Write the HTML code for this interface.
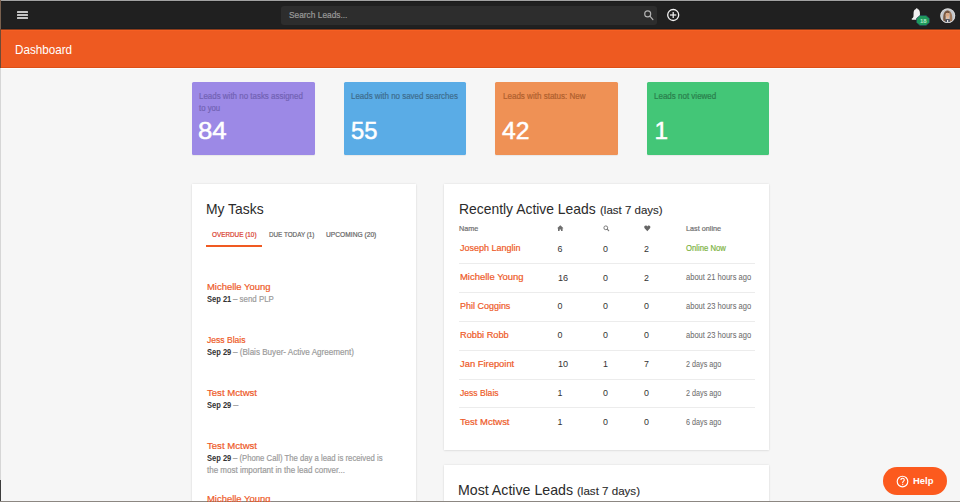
<!DOCTYPE html>
<html><head><meta charset="utf-8">
<style>
*{box-sizing:border-box;margin:0;padding:0}
html,body{width:960px;height:502px;overflow:hidden;background:#f6f6f6;font-family:"Liberation Sans",sans-serif}
body{position:relative}
.a{position:absolute}
.tx{position:absolute;white-space:pre;transform-origin:0 0;-webkit-text-stroke:0.2px currentColor}
.ham{left:17px;width:11px;height:2px;background:#c4c4c4;border-radius:0.5px}
.stat{top:82px;width:122.5px;height:73px;border-radius:1.5px;box-shadow:0 1px 1px rgba(0,0,0,.06)}
.card{background:#fff;box-shadow:0 0 2px rgba(0,0,0,.10),0 1px 2px rgba(0,0,0,.06)}
.sep{left:459px;width:296px;height:1px;background:#ececec}
.ic{position:absolute}
</style></head><body>
<div class="a" style="left:0;top:0;width:960px;height:1px;background:#a2a2a2"></div>
<div class="a" style="left:0;top:1px;width:960px;height:28px;background:#202020"></div>
<div class="a" style="left:0;top:1px;width:960px;height:1px;background:#1a1a1a"></div>
<div class="a" style="left:0;top:28px;width:960px;height:1px;background:#1a1d20"></div>
<div class="a ham" style="top:11px"></div>
<div class="a ham" style="top:14px"></div>
<div class="a ham" style="top:17px"></div>
<div class="a" style="left:281px;top:6px;width:376px;height:18.5px;background:#2d2d2d;border-radius:3px"></div>
<!-- search icon -->
<svg class="ic" style="left:643px;top:10px" width="12" height="12" viewBox="0 0 12 12"><circle cx="4.7" cy="3.9" r="3" fill="none" stroke="#b4b4b4" stroke-width="1.15"/><line x1="6.9" y1="6.1" x2="9.9" y2="9.6" stroke="#b4b4b4" stroke-width="1.2" stroke-linecap="round"/></svg>
<!-- plus circle -->
<svg class="ic" style="left:666.1px;top:7.8px" width="14" height="14" viewBox="0 0 14 14"><circle cx="7.2" cy="7" r="5.5" fill="none" stroke="#f2f2f2" stroke-width="1.3"/><line x1="7.2" y1="3.9" x2="7.2" y2="10.1" stroke="#f2f2f2" stroke-width="1.25"/><line x1="4" y1="7" x2="10.3" y2="7" stroke="#f2f2f2" stroke-width="1.25"/></svg>
<!-- bell -->
<svg class="ic" style="left:911px;top:8px" width="12" height="13" viewBox="0 0 12 13"><path d="M5.75 1 C3.6 1 2.7 2.6 2.6 4.6 L2.5 8.2 C2.4 9.4 1.6 10 0.8 10.5 L0.8 11.7 L10.7 11.7 L10.7 10.5 C9.9 10 9.1 9.4 9 8.2 L8.9 4.6 C8.8 2.6 7.9 1 5.75 1Z" fill="#f2f2f2"/><circle cx="5.75" cy="1.1" r="0.9" fill="#f2f2f2"/></svg>
<svg class="ic" style="left:916.3px;top:15.4px" width="14" height="11" viewBox="0 0 14 11"><path d="M4 0.4 L10 0.4 L13.5 3.4 L13.5 7.6 L10 10.6 L4 10.6 L0.5 7.6 L0.5 3.4Z" fill="#1f9a5c" stroke="#243f5a" stroke-width="0.7" stroke-linejoin="round"/></svg>
<div class="tx" style="left:920px;top:18.2px;font-size:6px;line-height:6px;font-weight:700;color:#aee6c4;-webkit-text-stroke:0">18</div>
<!-- avatar -->
<svg class="ic" style="left:940px;top:7.5px" width="15.5" height="15.5" viewBox="0 0 16 16"><defs><clipPath id="cp"><circle cx="8" cy="8" r="7"/></clipPath></defs><circle cx="8" cy="8" r="7.6" fill="#d4d4d4"/><g clip-path="url(#cp)"><rect x="0" y="0" width="16" height="16" fill="#c3c7cc"/><path d="M3.5 14 C3 9 3.4 3 7.2 2.6 C5.6 5 5.6 9 6 14Z" fill="#7a5a43"/><path d="M12.6 14 C13 9 12.4 3 8.4 2.6 C10.2 5 10.2 9 9.8 14Z" fill="#a07b5e"/><path d="M7.2 2.6 C8 2.4 8.4 2.6 8.4 2.6 C9.4 3.4 9.8 4.5 9.8 5.2 L5.8 5.2 C5.8 4.5 6.2 3.4 7.2 2.6Z" fill="#6d4f3b"/><ellipse cx="7.8" cy="7.2" rx="2" ry="2.4" fill="#dba985"/><path d="M6.4 8.6 L9.4 8.6 L9 11 L6.8 11Z" fill="#e6b896"/><rect x="5.6" y="11.6" width="4.4" height="5" fill="#2e3646"/><rect x="7.1" y="12.4" width="1.5" height="3.6" fill="#e8e8e8"/></g><circle cx="8" cy="8" r="7.25" fill="none" stroke="#dedede" stroke-width="0.7"/></svg>

<div class="a" style="left:0;top:29px;width:960px;height:38.5px;background:#ee5a21"></div>
<div class="a" style="left:0;top:29px;width:960px;height:1px;background:#8a3c1c"></div>
<div class="a" style="left:0;top:30px;width:960px;height:1px;background:#f65f22"></div>
<div class="a" style="left:0;top:67px;width:960px;height:1px;background:#dc5018"></div>
<div class="a" style="left:0;top:68px;width:960px;height:1px;background:#fcfeff"></div>

<div class="a stat" style="left:192px;background:#9c89e6"></div>
<div class="a stat" style="left:343.5px;background:#5aace6"></div>
<div class="a stat" style="left:495px;background:#ef9155"></div>
<div class="a stat" style="left:646.5px;background:#43c677"></div>

<div class="a card" style="left:192px;top:183.5px;width:224px;height:330px"></div>
<div class="a card" style="left:444.2px;top:183.5px;width:325px;height:266.5px"></div>
<div class="a card" style="left:444.2px;top:464.5px;width:325px;height:60px"></div>

<div class="a" style="left:206.2px;top:244.6px;width:56px;height:2px;background:#f05a22"></div>

<div class="a sep" style="top:263px"></div>
<div class="a sep" style="top:291.9px"></div>
<div class="a sep" style="top:320.8px"></div>
<div class="a sep" style="top:349.6px"></div>
<div class="a sep" style="top:378.5px"></div>
<div class="a sep" style="top:407.4px"></div>

<!-- table header icons -->
<svg class="ic" style="left:557px;top:224.5px" width="7" height="7" viewBox="0 0 7 7"><path d="M3.3 0.3 L6.5 3.2 L5.6 3.2 L5.6 6 L4 6 L4 4.4 L2.6 4.4 L2.6 6 L1 6 L1 3.2 L0.1 3.2Z" fill="#6e6e6e"/></svg>
<svg class="ic" style="left:602.5px;top:224.8px" width="7" height="7" viewBox="0 0 7 7"><circle cx="2.8" cy="2.8" r="1.9" fill="none" stroke="#7a7a7a" stroke-width="1"/><line x1="4.2" y1="4.2" x2="6" y2="6" stroke="#7a7a7a" stroke-width="1.1"/></svg>
<svg class="ic" style="left:644.2px;top:224.6px" width="7" height="7" viewBox="0 0 7 7"><path d="M3.3 6.3 L0.8 3.6 C-0.3 2.4 0.2 0.4 1.8 0.4 C2.6 0.4 3.1 0.9 3.3 1.4 C3.5 0.9 4 0.4 4.8 0.4 C6.4 0.4 6.9 2.4 5.8 3.6Z" fill="#666"/></svg>

<!-- help button -->
<div class="a" style="left:883px;top:467.2px;width:64.3px;height:28px;border-radius:14px;background:#fc5a1e"></div>
<svg class="ic" style="left:895.5px;top:474.5px" width="13" height="13" viewBox="0 0 13 13"><circle cx="6.5" cy="6.5" r="5.3" fill="none" stroke="#fff" stroke-width="1.15"/><path d="M4.9 5.1 C4.9 3.9 5.6 3.3 6.6 3.3 C7.6 3.3 8.3 3.9 8.3 4.9 C8.3 6 6.7 6.2 6.7 7.6 L6.7 8.2" fill="none" stroke="#fff" stroke-width="1.1"/><circle cx="6.7" cy="9.6" r="0.65" fill="#fff"/></svg>

<!-- left/bottom desktop edges -->
<div class="a" style="left:0;top:0;width:1px;height:29px;background:#7a604e"></div>
<div class="a" style="left:0;top:29px;width:1px;height:39px;background:#6e4a35"></div>
<div class="a" style="left:0;top:68px;width:1px;height:412px;background:#d6d6d6"></div>
<div class="a" style="left:0;top:480px;width:1px;height:22px;background:#3c3c3c"></div>
<div class="a" style="left:0;top:501px;width:960px;height:1px;background:#8c8782"></div>

<div class="tx" style="left:288.80px;top:11.25px;font-size:8.8px;line-height:8.8px;color:#9a9a9a;font-weight:400;transform:scaleX(0.9481);">Search Leads...</div>
<div class="tx" style="left:14.50px;top:42.69px;font-size:13px;line-height:13px;color:#ffffff;font-weight:400;transform:scaleX(0.8979);-webkit-text-stroke:0;">Dashboard</div>
<div class="tx" style="left:198.80px;top:91.69px;font-size:8.4px;line-height:8.4px;color:#7262b4;font-weight:400;transform:scaleX(0.9494);">Leads with no tasks assigned</div>
<div class="tx" style="left:198.80px;top:104.39px;font-size:8.4px;line-height:8.4px;color:#7262b4;font-weight:400;transform:scaleX(0.9285);">to you</div>
<div class="tx" style="left:351.00px;top:91.69px;font-size:8.4px;line-height:8.4px;color:#3e6d8e;font-weight:400;transform:scaleX(0.9486);">Leads with no saved searches</div>
<div class="tx" style="left:502.50px;top:91.69px;font-size:8.4px;line-height:8.4px;color:#b0602e;font-weight:400;transform:scaleX(0.9590);">Leads with status: New</div>
<div class="tx" style="left:654.00px;top:91.69px;font-size:8.4px;line-height:8.4px;color:#2a7e4c;font-weight:400;transform:scaleX(0.9553);">Leads not viewed</div>
<div class="tx" style="left:198.44px;top:118.83px;font-size:24.3px;line-height:24.3px;color:#ffffff;font-weight:400;transform:scaleX(1.0622);-webkit-text-stroke:0.5px #fff;">84</div>
<div class="tx" style="left:350.60px;top:118.83px;font-size:24.3px;line-height:24.3px;color:#ffffff;font-weight:400;transform:scaleX(0.9769);-webkit-text-stroke:0.5px #fff;">55</div>
<div class="tx" style="left:502.00px;top:118.83px;font-size:24.3px;line-height:24.3px;color:#ffffff;font-weight:400;transform:scaleX(1.0184);-webkit-text-stroke:0.5px #fff;">42</div>
<div class="tx" style="left:654.60px;top:118.83px;font-size:24.3px;line-height:24.3px;color:#ffffff;font-weight:400;transform:scaleX(1.0000);-webkit-text-stroke:0.5px #fff;">1</div>
<div class="tx" style="left:205.54px;top:201.66px;font-size:14.4px;line-height:14.4px;color:#2b2b2b;font-weight:400;transform:scaleX(0.9648);-webkit-text-stroke:0;">My Tasks</div>
<div class="tx" style="left:212.00px;top:230.97px;font-size:7px;line-height:7px;color:#d83a2c;font-weight:400;transform:scaleX(0.9080);">OVERDUE (10)</div>
<div class="tx" style="left:268.80px;top:230.97px;font-size:7px;line-height:7px;color:#666666;font-weight:400;transform:scaleX(0.9015);">DUE TODAY (1)</div>
<div class="tx" style="left:326.30px;top:230.97px;font-size:7px;line-height:7px;color:#666666;font-weight:400;transform:scaleX(0.9513);">UPCOMING (20)</div>
<div class="tx" style="left:206.50px;top:282.61px;font-size:9.2px;line-height:9.2px;color:#ee5a28;font-weight:400;transform:scaleX(1.0264);">Michelle Young</div>
<div class="tx" style="left:206.50px;top:294.88px;font-size:9px;line-height:9px;color:#333333;font-weight:700;transform:scaleX(0.8376);-webkit-text-stroke:0;">Sep 21</div>
<div class="tx" style="left:233.20px;top:294.88px;font-size:9px;line-height:9px;color:#9b9b9b;font-weight:400;transform:scaleX(0.8768);">– send PLP</div>
<div class="tx" style="left:206.50px;top:335.61px;font-size:9.2px;line-height:9.2px;color:#ee5a28;font-weight:400;transform:scaleX(0.9314);">Jess Blais</div>
<div class="tx" style="left:206.50px;top:347.88px;font-size:9px;line-height:9px;color:#333333;font-weight:700;transform:scaleX(0.8376);-webkit-text-stroke:0;">Sep 29</div>
<div class="tx" style="left:233.20px;top:347.88px;font-size:9px;line-height:9px;color:#9b9b9b;font-weight:400;transform:scaleX(0.8985);">– (Blais Buyer- Active Agreement)</div>
<div class="tx" style="left:206.50px;top:388.61px;font-size:9.2px;line-height:9.2px;color:#ee5a28;font-weight:400;transform:scaleX(1.0428);">Test Mctwst</div>
<div class="tx" style="left:206.50px;top:400.88px;font-size:9px;line-height:9px;color:#333333;font-weight:700;transform:scaleX(0.8376);-webkit-text-stroke:0;">Sep 29</div>
<div class="tx" style="left:233.20px;top:400.88px;font-size:9px;line-height:9px;color:#9b9b9b;font-weight:400;transform:scaleX(1.0000);">–</div>
<div class="tx" style="left:206.50px;top:441.61px;font-size:9.2px;line-height:9.2px;color:#ee5a28;font-weight:400;transform:scaleX(1.0428);">Test Mctwst</div>
<div class="tx" style="left:206.50px;top:453.88px;font-size:9px;line-height:9px;color:#333333;font-weight:700;transform:scaleX(0.8376);-webkit-text-stroke:0;">Sep 29</div>
<div class="tx" style="left:233.20px;top:453.88px;font-size:9px;line-height:9px;color:#9b9b9b;font-weight:400;transform:scaleX(0.8597);">– (Phone Call) The day a lead is received is</div>
<div class="tx" style="left:206.50px;top:494.61px;font-size:9.2px;line-height:9.2px;color:#ee5a28;font-weight:400;transform:scaleX(1.0264);">Michelle Young</div>
<div class="tx" style="left:206.50px;top:465.88px;font-size:9px;line-height:9px;color:#9b9b9b;font-weight:400;transform:scaleX(0.8895);">the most important in the lead conver...</div>
<div class="tx" style="left:458.74px;top:201.72px;font-size:14.5px;line-height:14.5px;color:#2b2b2b;font-weight:400;transform:scaleX(0.9584);-webkit-text-stroke:0;">Recently Active Leads</div>
<div class="tx" style="left:600.30px;top:204.89px;font-size:11px;line-height:11px;color:#2b2b2b;font-weight:400;transform:scaleX(1.0448);-webkit-text-stroke:0.1px currentColor;">(last 7 days)</div>
<div class="tx" style="left:458.42px;top:482.92px;font-size:14.5px;line-height:14.5px;color:#2b2b2b;font-weight:400;transform:scaleX(0.9776);-webkit-text-stroke:0;">Most Active Leads</div>
<div class="tx" style="left:576.70px;top:486.09px;font-size:11px;line-height:11px;color:#2b2b2b;font-weight:400;transform:scaleX(1.0515);-webkit-text-stroke:0.1px currentColor;">(last 7 days)</div>
<div class="tx" style="left:458.80px;top:225.35px;font-size:7.5px;line-height:7.5px;color:#6f6f6f;font-weight:400;transform:scaleX(0.9629);">Name</div>
<div class="tx" style="left:686.00px;top:225.35px;font-size:7.5px;line-height:7.5px;color:#6f6f6f;font-weight:400;transform:scaleX(0.9666);">Last online</div>
<div class="tx" style="left:459.50px;top:244.40px;font-size:9.1px;line-height:9.1px;color:#ee5a28;font-weight:400;transform:scaleX(0.9898);">Joseph Langlin</div>
<div class="tx" style="left:557.50px;top:244.66px;font-size:8.9px;line-height:8.9px;color:#333333;font-weight:400;transform:scaleX(1.0000);-webkit-text-stroke:0;">6</div>
<div class="tx" style="left:603.00px;top:244.66px;font-size:8.9px;line-height:8.9px;color:#333333;font-weight:400;transform:scaleX(1.0000);-webkit-text-stroke:0;">0</div>
<div class="tx" style="left:644.00px;top:244.66px;font-size:8.9px;line-height:8.9px;color:#333333;font-weight:400;transform:scaleX(1.0000);-webkit-text-stroke:0;">2</div>
<div class="tx" style="left:686.00px;top:244.15px;font-size:8.8px;line-height:8.8px;color:#7cb342;font-weight:400;transform:scaleX(0.8782);">Online Now</div>
<div class="tx" style="left:459.50px;top:273.27px;font-size:9.1px;line-height:9.1px;color:#ee5a28;font-weight:400;transform:scaleX(1.0394);">Michelle Young</div>
<div class="tx" style="left:557.50px;top:273.53px;font-size:8.9px;line-height:8.9px;color:#333333;font-weight:400;transform:scaleX(1.0266);-webkit-text-stroke:0;">16</div>
<div class="tx" style="left:603.00px;top:273.53px;font-size:8.9px;line-height:8.9px;color:#333333;font-weight:400;transform:scaleX(1.0000);-webkit-text-stroke:0;">0</div>
<div class="tx" style="left:644.00px;top:273.53px;font-size:8.9px;line-height:8.9px;color:#333333;font-weight:400;transform:scaleX(1.0000);-webkit-text-stroke:0;">2</div>
<div class="tx" style="left:686.00px;top:273.19px;font-size:8.6px;line-height:8.6px;color:#6e6e6e;font-weight:400;transform:scaleX(0.8791);-webkit-text-stroke:0.05px currentColor;">about 21 hours ago</div>
<div class="tx" style="left:459.50px;top:302.14px;font-size:9.1px;line-height:9.1px;color:#ee5a28;font-weight:400;transform:scaleX(0.9863);">Phil Coggins</div>
<div class="tx" style="left:557.50px;top:302.40px;font-size:8.9px;line-height:8.9px;color:#333333;font-weight:400;transform:scaleX(1.0000);-webkit-text-stroke:0;">0</div>
<div class="tx" style="left:603.00px;top:302.40px;font-size:8.9px;line-height:8.9px;color:#333333;font-weight:400;transform:scaleX(1.0000);-webkit-text-stroke:0;">0</div>
<div class="tx" style="left:644.00px;top:302.40px;font-size:8.9px;line-height:8.9px;color:#333333;font-weight:400;transform:scaleX(1.0000);-webkit-text-stroke:0;">0</div>
<div class="tx" style="left:686.00px;top:302.06px;font-size:8.6px;line-height:8.6px;color:#6e6e6e;font-weight:400;transform:scaleX(0.8791);-webkit-text-stroke:0.05px currentColor;">about 23 hours ago</div>
<div class="tx" style="left:459.50px;top:331.01px;font-size:9.1px;line-height:9.1px;color:#ee5a28;font-weight:400;transform:scaleX(1.0132);">Robbi Robb</div>
<div class="tx" style="left:557.50px;top:331.27px;font-size:8.9px;line-height:8.9px;color:#333333;font-weight:400;transform:scaleX(1.0000);-webkit-text-stroke:0;">0</div>
<div class="tx" style="left:603.00px;top:331.27px;font-size:8.9px;line-height:8.9px;color:#333333;font-weight:400;transform:scaleX(1.0000);-webkit-text-stroke:0;">0</div>
<div class="tx" style="left:644.00px;top:331.27px;font-size:8.9px;line-height:8.9px;color:#333333;font-weight:400;transform:scaleX(1.0000);-webkit-text-stroke:0;">0</div>
<div class="tx" style="left:686.00px;top:330.93px;font-size:8.6px;line-height:8.6px;color:#6e6e6e;font-weight:400;transform:scaleX(0.8791);-webkit-text-stroke:0.05px currentColor;">about 23 hours ago</div>
<div class="tx" style="left:459.50px;top:359.88px;font-size:9.1px;line-height:9.1px;color:#ee5a28;font-weight:400;transform:scaleX(1.0313);">Jan Firepoint</div>
<div class="tx" style="left:557.50px;top:360.14px;font-size:8.9px;line-height:8.9px;color:#333333;font-weight:400;transform:scaleX(1.0266);-webkit-text-stroke:0;">10</div>
<div class="tx" style="left:603.00px;top:360.14px;font-size:8.9px;line-height:8.9px;color:#333333;font-weight:400;transform:scaleX(1.0000);-webkit-text-stroke:0;">1</div>
<div class="tx" style="left:644.00px;top:360.14px;font-size:8.9px;line-height:8.9px;color:#333333;font-weight:400;transform:scaleX(1.0000);-webkit-text-stroke:0;">7</div>
<div class="tx" style="left:686.00px;top:359.80px;font-size:8.6px;line-height:8.6px;color:#6e6e6e;font-weight:400;transform:scaleX(0.8399);-webkit-text-stroke:0.05px currentColor;">2 days ago</div>
<div class="tx" style="left:459.50px;top:388.75px;font-size:9.1px;line-height:9.1px;color:#ee5a28;font-weight:400;transform:scaleX(0.9423);">Jess Blais</div>
<div class="tx" style="left:557.50px;top:389.01px;font-size:8.9px;line-height:8.9px;color:#333333;font-weight:400;transform:scaleX(1.0000);-webkit-text-stroke:0;">1</div>
<div class="tx" style="left:603.00px;top:389.01px;font-size:8.9px;line-height:8.9px;color:#333333;font-weight:400;transform:scaleX(1.0000);-webkit-text-stroke:0;">0</div>
<div class="tx" style="left:644.00px;top:389.01px;font-size:8.9px;line-height:8.9px;color:#333333;font-weight:400;transform:scaleX(1.0000);-webkit-text-stroke:0;">0</div>
<div class="tx" style="left:686.00px;top:388.67px;font-size:8.6px;line-height:8.6px;color:#6e6e6e;font-weight:400;transform:scaleX(0.8399);-webkit-text-stroke:0.05px currentColor;">2 days ago</div>
<div class="tx" style="left:459.50px;top:417.62px;font-size:9.1px;line-height:9.1px;color:#ee5a28;font-weight:400;transform:scaleX(1.0424);">Test Mctwst</div>
<div class="tx" style="left:557.50px;top:417.88px;font-size:8.9px;line-height:8.9px;color:#333333;font-weight:400;transform:scaleX(1.0000);-webkit-text-stroke:0;">1</div>
<div class="tx" style="left:603.00px;top:417.88px;font-size:8.9px;line-height:8.9px;color:#333333;font-weight:400;transform:scaleX(1.0000);-webkit-text-stroke:0;">0</div>
<div class="tx" style="left:644.00px;top:417.88px;font-size:8.9px;line-height:8.9px;color:#333333;font-weight:400;transform:scaleX(1.0000);-webkit-text-stroke:0;">0</div>
<div class="tx" style="left:686.00px;top:417.54px;font-size:8.6px;line-height:8.6px;color:#6e6e6e;font-weight:400;transform:scaleX(0.8399);-webkit-text-stroke:0.05px currentColor;">6 days ago</div>
<div class="tx" style="left:913.30px;top:476.81px;font-size:9.2px;line-height:9.2px;color:#ffffff;font-weight:700;transform:scaleX(1.0248);-webkit-text-stroke:0;">Help</div>
</body></html>
